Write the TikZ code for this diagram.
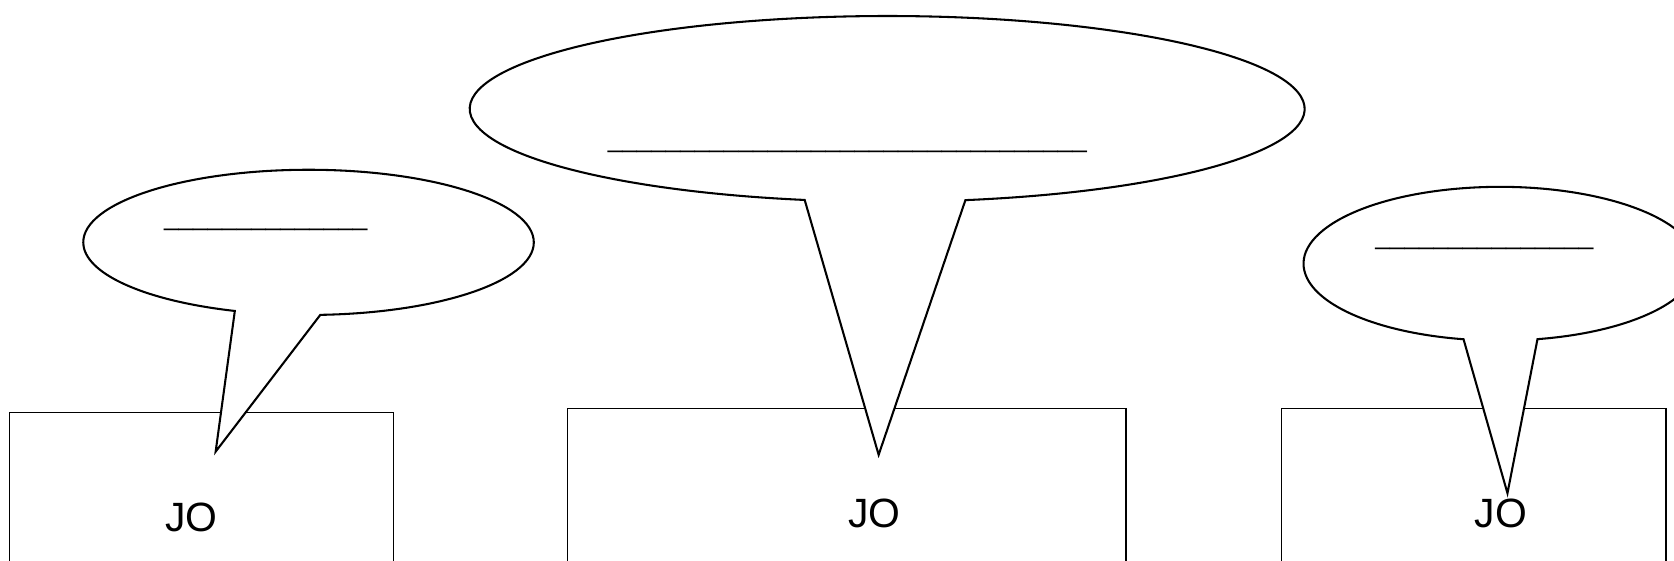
\documentclass[tikz,border=0pt]{standalone}
\usepackage{fontspec}
\newfontfamily\speakerfont{Liberation Sans}

\begin{document}
\begin{tikzpicture}[
  box/.style={draw, line width=0.35pt, inner sep=0pt, anchor=north west},
  bubble/.style={draw, fill=white, line width=0.55pt, line join=miter},
  speaker/.style={inner sep=0pt, anchor=base, font=\speakerfont\fontsize{10.9pt}{12pt}\selectfont},
  blank/.style={inner sep=0pt, anchor=base, font=\speakerfont\fontsize{6.96pt}{8pt}\selectfont}]
\useasboundingbox (0,0) rectangle (15.68,-5.25);
\clip (0,0) rectangle (15.68,-5.25);

% the three speakers
\node[box, minimum width=3.60cm, minimum height=1.41cm] (boxL) at (0.08,-3.86) {};
\node[box, minimum width=5.23cm, minimum height=1.45cm] (boxM) at (5.31,-3.82) {};
\node[box, minimum width=3.60cm, minimum height=1.45cm] (boxR) at (12.00,-3.82) {};

% speech bubbles
\coordinate (cL) at (2.89,-2.27);
\coordinate (tipL) at (2.02,-4.23);
\draw[bubble] (cL) ++(273:2.11 and 0.68) arc[start angle=273, end angle=610.9, x radius=2.11, y radius=0.68] -- (tipL) -- cycle;

\coordinate (cM) at (8.31,-1.02);
\coordinate (tipM) at (8.23,-4.26);
\draw[bubble] (cM) ++(280.8:3.91 and 0.87) arc[start angle=280.8, end angle=618.6, x radius=3.91, y radius=0.87] -- (tipM) -- cycle;

\coordinate (cR) at (14.05,-2.47);
\coordinate (tipR) at (14.12,-4.62);
\draw[bubble] (cR) ++(281:1.84 and 0.72) arc[start angle=281, end angle=619.3, x radius=1.84, y radius=0.72] -- (tipR) -- cycle;

% blanks to fill in
\node[blank] (lineL) at (2.49,-2.111) {\_\_\_\_\_\_\_\_\_\_\_\_\_\_};
\node[blank] (lineM) at (7.938,-1.377) {\_\_\_\_\_\_\_\_\_\_\_\_\_\_\_\_\_\_\_\_\_\_\_\_\_\_\_\_\_\_\_\_\_};
\node[blank] (lineR) at (13.904,-2.287) {\_\_\_\_\_\_\_\_\_\_\_\_\_\_\_};

% names
\node[speaker] (joL) at (1.794,-4.98) {JO};
\node[speaker] (joM) at (8.19,-4.94) {JO};
\node[speaker] (joR) at (14.06,-4.945) {JO};
\end{tikzpicture}
\end{document}
